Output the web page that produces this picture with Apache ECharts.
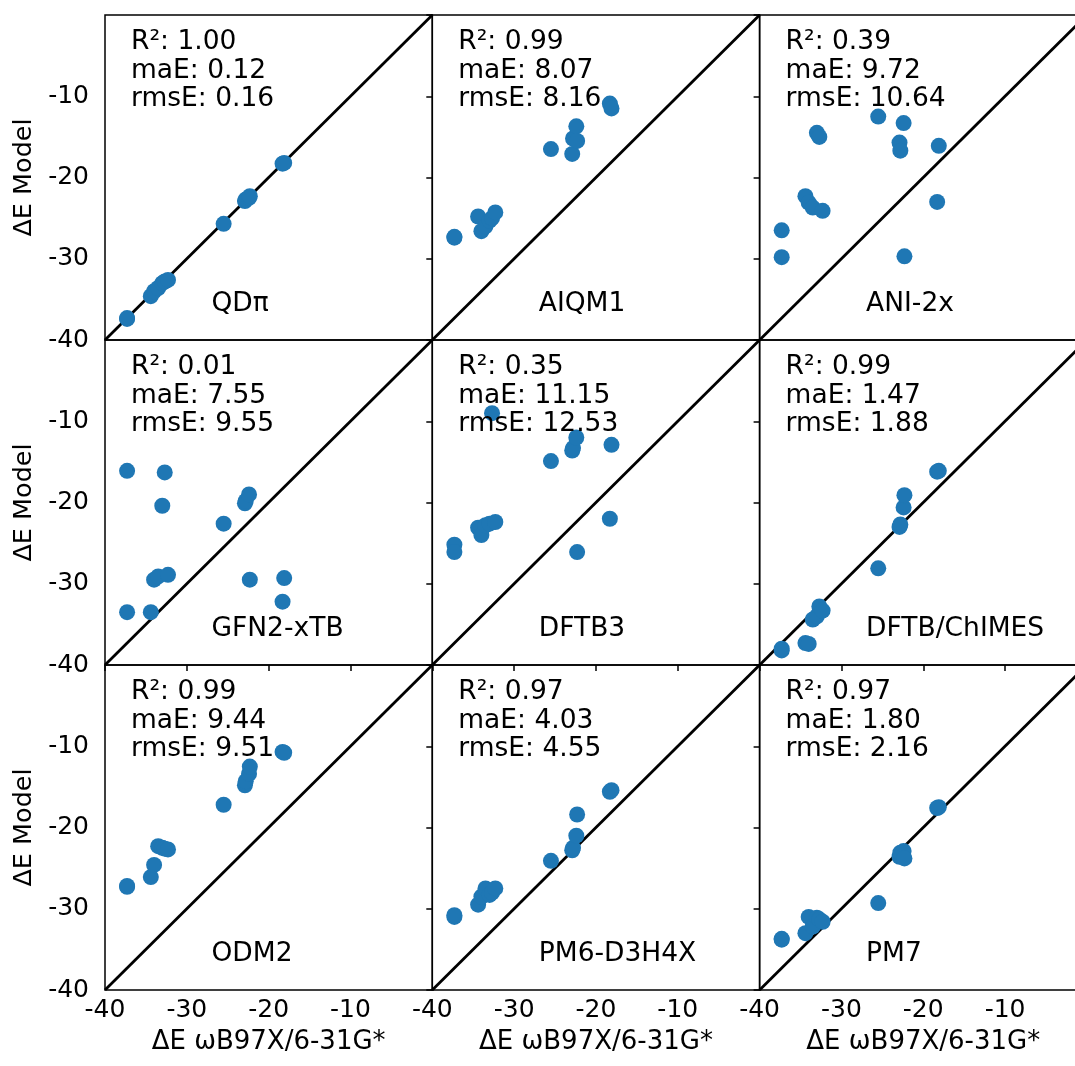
<!DOCTYPE html>
<html>
<head>
<meta charset="utf-8">
<script src="https://cdn.jsdelivr.net/npm/echarts@6/dist/echarts.min.js"></script>
<style>
html,body{margin:0;padding:0;background:#fff;overflow:hidden;}
#c{width:1075px;height:1066px;}
</style>
</head>
<body>
<div id="c"></div>
<script>
// Reference energies (x, shared by all panels)
const refX = [-37.3, -37.3, -34.4, -34.0, -33.5, -33.0, -32.7, -32.3, -25.5, -22.9, -22.8, -22.4, -22.3, -18.3, -18.1];

// Model energies per panel
const qdpiY   = [-37.4, -37.3, -34.6, -34.0, -33.6, -33.0, -32.8, -32.6, -25.7, -22.9, -22.7, -22.5, -22.3, -18.3, -18.2];
const aiqm1Y  = [-27.4, -27.3, -24.8, -26.6, -26.0, -25.3, -25.0, -24.3, -16.5, -17.1, -15.2, -13.7, -15.5, -10.9, -11.5];
const ani2xY  = [-26.5, -29.8, -22.3, -23.1, -23.7, -14.5, -15.0, -24.1, -12.5, -15.7, -16.7, -13.3, -29.7, -23.0, -16.1];
const gfn2Y   = [-16.1, -33.5, -33.5, -29.5, -29.1, -20.4, -16.3, -28.9, -22.6, -20.1, -19.8, -19.0, -29.5, -32.2, -29.3];
const dftb3Y  = [-25.2, -26.1, -23.1, -24.0, -22.8, -22.6, -9.0, -22.4, -14.9, -13.6, -13.3, -12.0, -26.1, -22.0, -12.9];
const chimesY = [-38.2, -38.0, -37.3, -37.4, -34.4, -34.0, -32.8, -33.3, -28.1, -23.0, -22.7, -20.6, -19.1, -16.2, -16.1];
const odm2Y   = [-27.3, -27.2, -26.1, -24.6, -22.3, -22.5, -22.6, -22.7, -17.2, -14.8, -14.3, -13.4, -12.5, -10.7, -10.8];
const pm6Y    = [-31.0, -30.8, -29.5, -28.5, -27.5, -28.3, -28.0, -27.5, -24.1, -22.8, -22.5, -21.0, -18.4, -15.6, -15.4];
const pm7Y    = [-33.8, -33.7, -33.0, -31.0, -32.2, -31.1, -31.3, -31.6, -29.3, -23.6, -23.1, -22.9, -23.8, -17.6, -17.5];

const methods = ['QDπ', 'AIQM1', 'ANI-2x', 'GFN2-xTB', 'DFTB3', 'DFTB/ChIMES', 'ODM2', 'PM6-D3H4X', 'PM7'];
const r2Vals   = ['1.00', '0.99', '0.39', '0.01', '0.35', '0.99', '0.99', '0.97', '0.97'];
const maeVals  = ['0.12', '8.07', '9.72', '7.55', '11.15', '1.47', '9.44', '4.03', '1.80'];
const rmseVals = ['0.16', '8.16', '10.64', '9.55', '12.53', '1.88', '9.51', '4.55', '2.16'];

const axisTicks = [-40, -30, -20, -10, 0];
const axisMin = -40, axisMax = 0;
const xName = 'ΔE ωB97X/6-31G*';
const yName = 'ΔE Model';

const modelY = [qdpiY, aiqm1Y, ani2xY, gfn2Y, dftb3Y, chimesY, odm2Y, pm6Y, pm7Y];

// Layout
const lefts = [105, 432.3, 759.6];
const tops = [15, 340, 665];
const PW = 327.3, PH = 325;
const FONT = 'DejaVu Sans';

const grids = [], xAxes = [], yAxes = [], series = [], graphics = [];
for (let i = 0; i < 9; i++) {
  const r = Math.floor(i / 3), c = i % 3;
  grids.push({left: lefts[c], top: tops[r], width: PW, height: PH, show: true,
    outerBoundsMode: 'none', containLabel: false,
    borderColor: '#000', borderWidth: 1.5, backgroundColor: 'transparent'});
  const bottomRow = r === 2, leftCol = c === 0;
  xAxes.push({type: 'value', gridIndex: i, min: axisMin, max: axisMax, interval: 10,
    axisLine: {show: false}, splitLine: {show: false},
    axisTick: {show: bottomRow, length: 6, lineStyle: {color: '#000', width: 1.5}},
    axisLabel: {show: bottomRow, color: '#000', fontSize: 25, fontFamily: FONT, margin: 8,
      showMinLabel: true, showMaxLabel: true,
      formatter: v => (axisTicks.indexOf(v) >= 0 && v !== 0) ? String(v) : ''},
    name: bottomRow ? xName : '', nameLocation: 'middle', nameGap: 39,
    nameTextStyle: {color: '#000', fontSize: 26, fontFamily: FONT}});
  yAxes.push({type: 'value', gridIndex: i, min: axisMin, max: axisMax, interval: 10,
    axisLine: {show: false}, splitLine: {show: false},
    axisTick: {show: true, length: 6, lineStyle: {color: '#000', width: 1.5}},
    axisLabel: {show: leftCol, color: '#000', fontSize: 25, fontFamily: FONT, margin: 16,
      showMinLabel: true, showMaxLabel: true,
      formatter: v => (axisTicks.indexOf(v) >= 0 && v !== 0) ? String(v) : ''},
    name: leftCol ? yName : '', nameLocation: 'middle', nameGap: 68,
    nameTextStyle: {color: '#000', fontSize: 25.5, fontFamily: FONT}});
  series.push({type: 'line', xAxisIndex: i, yAxisIndex: i, data: [[axisMin, axisMin], [axisMax, axisMax]],
    symbol: 'none', silent: true, lineStyle: {color: '#000', width: 2.8}, z: 2, animation: false});
  series.push({type: 'scatter', xAxisIndex: i, yAxisIndex: i,
    data: refX.map((x, k) => [x, modelY[i][k]]),
    symbol: 'circle', symbolSize: 16, itemStyle: {color: '#1f77b4', opacity: 1}, z: 3, animation: false});
  const lines = ['R²: ' + r2Vals[i], 'maE: ' + maeVals[i], 'rmsE: ' + rmseVals[i]];
  lines.forEach((t, k) => {
    graphics.push({type: 'text', x: lefts[c] + 26, y: tops[r] + 27.5 + k * 28.5, z: 10,
      style: {text: t, fill: '#000', fontSize: 26.5, fontFamily: FONT, align: 'left', verticalAlign: 'middle'}});
  });
  graphics.push({type: 'text', x: lefts[c] + 106.5, y: tops[r] + 289.5, z: 10,
    style: {text: methods[i], fill: '#000', fontSize: 26.5, fontFamily: FONT, align: 'left', verticalAlign: 'middle'}});
}

const chart = echarts.init(document.getElementById('c'), null, {renderer: 'canvas'});
chart.setOption({
  backgroundColor: '#fff',
  animation: false,
  grid: grids, xAxis: xAxes, yAxis: yAxes, series: series, graphic: graphics
});
</script>
</body>
</html>
